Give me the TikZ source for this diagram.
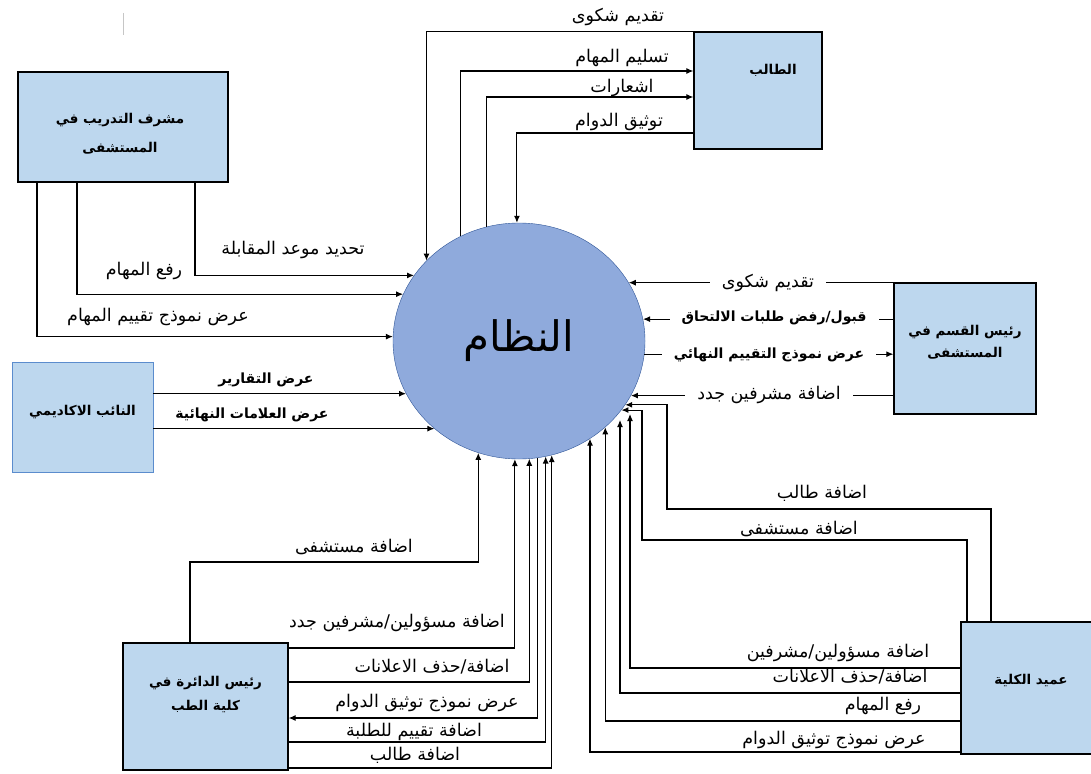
\documentclass[tikz,border=0pt]{standalone}
\usepackage{fontspec}
\newfontfamily\arabicfont[Script=Arabic]{DejaVu Sans}
\TeXXeTstate=1
\usepackage{xcolor}
\usepackage{tikz}
\usetikzlibrary{arrows.meta,shapes}
\usetikzlibrary{calc}

\definecolor{sysblue}{RGB}{143,170,220}
\definecolor{sysline}{RGB}{47,85,151}
\definecolor{boxblue}{RGB}{189,215,238}
\definecolor{depline}{RGB}{91,140,205}
\newcommand{\rtl}[1]{\beginR#1\endR}

\begin{document}
\begin{tikzpicture}[x=1pt,y=-1pt,
  every node/.style={font=\arabicfont\fontsize{17.5}{20}\selectfont},
  process/.style={draw=sysline,fill=sysblue,ellipse,minimum width=252pt,minimum height=236pt,
    font=\arabicfont\fontsize{42}{46}\selectfont},
  entity/.style={draw,line width=1.3pt,fill=boxblue},
  boxtext/.style={align=center,inner sep=0pt,font=\arabicfont\bfseries\fontsize{13.5}{24}\selectfont},
  to/.style={->,>={Latex[length=7pt,width=6pt]},line width=1.1pt},
  flow/.style={inner sep=1pt},
  strong/.style={flow,font=\arabicfont\bfseries\fontsize{14}{16}\selectfont},
  gap/.style={fill=white,inner xsep=12pt}]

    \useasboundingbox (0,0) rectangle (1091,773);
    \clip (0,0) rectangle (1091,773);

    \node[process](sys) at (519,341) {\rtl{النظام}};

    \node[entity,minimum width=128pt,minimum height=117pt](stu) at (758,90.5) {};
    \node[entity,minimum width=210pt,minimum height=110pt](sup) at (123,127) {};
    \node[entity,draw=depline,line width=0.8pt,minimum width=141pt,minimum height=110pt](dep) at (82.5,417) {};
    \node[entity,minimum width=142pt,minimum height=131pt](hos) at (965,348.5) {};
    \node[entity,minimum width=165pt,minimum height=127pt](head) at (205.5,706.5) {};
    \node[entity,minimum width=140pt,minimum height=132pt](dean) at (1031,688) {};

    \node[boxtext](stut) at ([xshift=15pt,yshift=20pt]stu.center) {\rtl{الطالب}};
    \node[boxtext,font=\arabicfont\bfseries\fontsize{13.5}{29}\selectfont](supt) at ([xshift=-3pt,yshift=-7pt]sup.center)
        {\rtl{مشرف التدريب في}\\\rtl{المستشفى}};
    \node[boxtext](dept) at ([yshift=5pt]dep.center) {\rtl{النائب الاكاديمي}};
    \node[boxtext,font=\arabicfont\bfseries\fontsize{13.5}{22}\selectfont](host) at ([yshift=6pt]hos.center)
        {\rtl{رئيس القسم في}\\\rtl{المستشفى}};
    \node[boxtext](headt) at ([yshift=12pt]head.center)
        {\rtl{رئيس الدائرة في}\\\rtl{كلية الطب}};
    \node[boxtext](deant) at ([yshift=8pt]dean.center) {\rtl{عميد الكلية}};

    % student
    \draw[to](stu.north west) -| (sys.139);
    \draw[to](sys.119) |- (stu.west |- 0,71);
    \draw[to](sys.106) |- (stu.west |- 0,97);
    \draw[to](stu.west |- 0,133) -| (sys.91);

    % supervisor
    \draw[to](sup.south -| 195,0) |- (sys.148);
    \draw[to](sup.south -| 77,0) |- (sys.158);
    \draw[to](sup.south -| 37,0) |- (sys.178);

    % deputy
    \draw[to](dep.east |- sys.205) -- (sys.205);
    \draw[to](dep.east |- sys.226) -- (sys.226);

    % hospital head
    \draw[to](hos.west |- sys.28) -- (sys.28);
    \draw[to](hos.west |- sys.10) -- (sys.10);
    \draw[to](sys.354) -- (hos.west |- sys.354);
    \draw[to](hos.west |- sys.334) -- (sys.334);

    % department head
    \draw[to](head.north -| 190,0) |- (sys.250 |- 0,562) -- (sys.250);
    \draw[to](head.east |- 0,648) -| (sys.268);
    \draw[to](head.east |- 0,682) -| (sys.275);
    \draw[to](sys.279) |- (head.east |- 0,718);
    \draw[to](head.east |- 0,742) -| (sys.283);
    \draw[to](head.east |- 0,768) -| (sys.286);

    % dean
    \draw[to](dean.north -| 991,0) |- (667,509) |- (sys.329);
    \draw[to](dean.north -| 967,0) |- (642,540) |- (sys.326);
    \draw[to](dean.west |- 0,668) -| ([xshift=111pt,yshift=-73pt]sys.center);
    \draw[to](dean.west |- 0,693) -| ([xshift=101pt,yshift=-79pt]sys.center);
    \draw[to](dean.west |- 0,721) -| (sys.315);
    \draw[to](dean.west |- 0,752) -| (sys.306);

    \node[flow](t1) at (618,17) {\rtl{تقديم شكوى}};
    \node[flow](t2) at (622,58) {\rtl{تسليم المهام}};
    \node[flow](t3) at (622,88) {\rtl{اشعارات}};
    \node[flow](t4) at (619,122) {\rtl{توثيق الدوام}};

    \node[flow](s1) at (293,250) {\rtl{تحديد موعد المقابلة}};
    \node[flow](s2) at (144,271) {\rtl{رفع المهام}};
    \node[flow](s3) at (158,317) {\rtl{عرض نموذج تقييم المهام}};

    \node[strong](a1) at (266,380) {\rtl{عرض التقارير}};
    \node[strong](a2) at (252,415) {\rtl{عرض العلامات النهائية}};

    \node[flow,gap](h1) at (768,283) {\rtl{تقديم شكوى}};
    \node[strong,gap](h2) at (774,318) {\rtl{قبول/رفض طلبات الالتحاق}};
    \node[strong,gap](h3) at (769,355) {\rtl{عرض نموذج التقييم النهائي}};
    \node[flow,gap](h4) at (769,395) {\rtl{اضافة مشرفين جدد}};

    \node[flow](r1) at (354,547) {\rtl{اضافة مستشفى}};
    \node[flow](r2) at (397,623) {\rtl{اضافة مسؤولين/مشرفين جدد}};
    \node[flow](r3) at (432,667) {\rtl{اضافة/حذف الاعلانات}};
    \node[flow](r4) at (427,703) {\rtl{عرض نموذج توثيق الدوام}};
    \node[flow](r5) at (414,732) {\rtl{اضافة تقييم للطلبة}};
    \node[flow](r6) at (415,755) {\rtl{اضافة طالب}};

    \node[flow](d1) at (822,493) {\rtl{اضافة طالب}};
    \node[flow](d2) at (799,529) {\rtl{اضافة مستشفى}};
    \node[flow](d3) at (838,653) {\rtl{اضافة مسؤولين/مشرفين}};
    \node[flow](d4) at (850,677) {\rtl{اضافة/حذف الاعلانات}};
    \node[flow](d5) at (883,706) {\rtl{رفع المهام}};
    \node[flow](d6) at (834,740) {\rtl{عرض نموذج توثيق الدوام}};

    \draw[gray!45,line width=1pt] (123,13) -- (123,35);
\end{tikzpicture}
\end{document}
